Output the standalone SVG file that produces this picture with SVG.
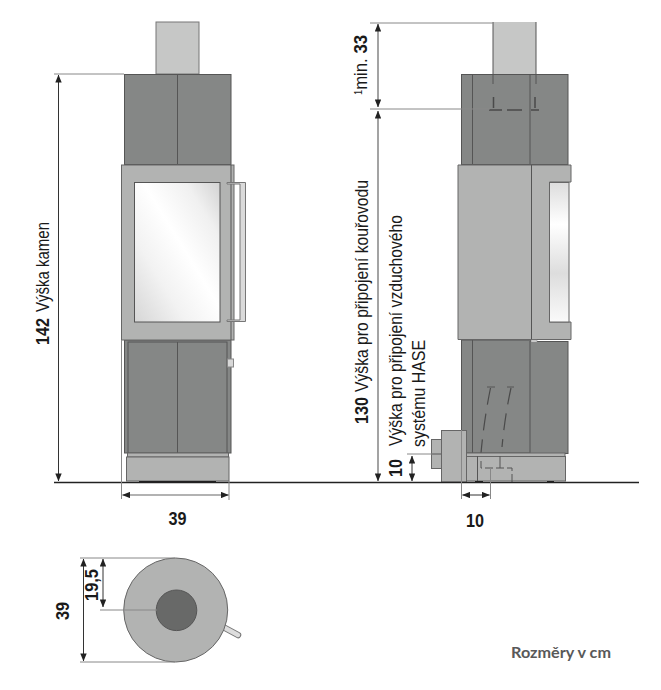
<svg xmlns="http://www.w3.org/2000/svg" width="661" height="690" viewBox="0 0 661 690">
<style>
text{font-family:"Liberation Sans",Arial,sans-serif;fill:#1a1a1a}
.n{font-size:18px}
.b{font-size:19px;font-weight:bold}
.ch{fill:#c6c7c6;stroke:#777;stroke-width:1}
.dk{fill:#858786;stroke:#555;stroke-width:1}
.lt{fill:#b2b3b2;stroke:#666;stroke-width:1}
.ln{fill:none;stroke:#555;stroke-width:1}
.br{fill:none;stroke:#4a4a4a;stroke-width:1.500}
.dash{fill:none;stroke:#4a4a4a;stroke-width:1.200;stroke-dasharray:17 9}
.dim{fill:none;stroke:#333;stroke-width:1;marker-start:url(#a);marker-end:url(#a)}
.dimg{fill:none;stroke:#666;stroke-width:1.200;marker-start:url(#a);marker-end:url(#a)}
.ext{fill:none;stroke:#888;stroke-width:1}
</style>
<defs>
<marker id="a" viewBox="0 0 10 8" refX="9.500" refY="4" markerWidth="8" markerHeight="6.400" markerUnits="userSpaceOnUse" orient="auto-start-reverse"><path d="M0 0L10 4L0 8Z" fill="#222"/></marker>
<linearGradient id="g" x1="0" y1="1" x2="1" y2="0"><stop offset="0" stop-color="#d6d6d6"/><stop offset=".3" stop-color="#f2f2f2"/><stop offset=".55" stop-color="#fff"/><stop offset=".8" stop-color="#f0f0f0"/><stop offset="1" stop-color="#d2d2d2"/></linearGradient>
<linearGradient id="g2" x1="0" y1="0" x2="0" y2="1"><stop offset="0" stop-color="#ddd"/><stop offset=".3" stop-color="#fff"/><stop offset=".65" stop-color="#ddd"/><stop offset="1" stop-color="#fafafa"/></linearGradient>
</defs>

<g id="stove-front">
<rect class="ch" x="156" y="22" width="43" height="52"/>
<rect class="dk" x="124.500" y="74.500" width="106.500" height="90"/>
<path class="ln" d="M177.500 74V165"/>
<rect class="dk" x="124.500" y="340" width="106.500" height="113"/>
<rect class="dk" x="128" y="342" width="99" height="111"/>
<path class="ln" d="M177.500 342V453"/>
<rect class="lt" x="121.500" y="165" width="112.500" height="175"/>
<path class="ln" d="M231 165V340"/>
<rect x="134.500" y="182.500" width="85.500" height="139.500" fill="url(#g)" stroke="#555"/>
<path d="M227 182.500H245.500V321.500H227V320H240V184H227Z" fill="#dadada" stroke="#777"/>
<rect x="227.500" y="359" width="6" height="8" fill="#d8d8d8" stroke="#888"/>
<rect class="lt" x="127.500" y="453" width="101" height="4"/>
<rect class="lt" x="126.500" y="457" width="102.500" height="24"/>
<rect x="139" y="481" width="77" height="2" fill="#222"/>
</g>

<g id="stove-side">
<rect x="493" y="22" width="43" height="52" fill="#c6c7c6"/>
<rect class="dk" x="461.500" y="74.500" width="106.500" height="90"/>
<path class="ln" d="M472.500 74V165M530 74V165M493 22V84M536 22V84"/>
<path class="br" d="M493.500 97V108M489 110H502M507 110H522M535 97V108M531 110H539"/>
<rect class="dk" x="461.500" y="340" width="69" height="113"/>
<rect class="dk" x="530" y="341.500" width="38" height="112"/>
<path class="ln" d="M472.500 340V453"/>
<path class="lt" d="M458 165H571V182H549.500V322H571V339.500H458Z"/>
<path class="ln" d="M531.500 165V339.500"/>
<rect x="549.500" y="182.500" width="19.500" height="139.500" fill="url(#g2)" stroke="#666"/>
<path d="M531 340H537V342H531Z" fill="#ddd" stroke="#888" stroke-width=".5"/>
<path class="ln" d="M487 387H495M507 387H514"/>
<path class="dash" d="M490.500 388Q484 420 481 453"/>
<path class="dash" d="M511 388Q505 415 502 447"/>
<rect class="lt" x="465" y="453" width="100" height="4"/>
<rect class="lt" x="463.500" y="456.500" width="102" height="24.500"/>
<rect class="lt" x="441.500" y="430.500" width="25" height="51.500"/>
<rect class="lt" x="431.500" y="439.500" width="10" height="29"/>
<path class="ln" d="M431 454H441M477.500 456V482M500 456V468"/>
<path fill="none" stroke="#555" stroke-dasharray="8 3" d="M481 461V468H512V482"/>
<rect x="475" y="481" width="8" height="2" fill="#222"/><rect x="547" y="481" width="7" height="2" fill="#222"/>
</g>

<g id="plan">
<path d="M225 628L238 635" stroke="#777" stroke-width="6.500" stroke-linecap="round" fill="none"/>
<path d="M225 628L238 635" stroke="#ddd" stroke-width="4.500" stroke-linecap="round" fill="none"/>
<circle cx="175.700" cy="610" r="52" fill="#b2b3b2" stroke="#666"/>
<circle cx="176.500" cy="610.300" r="20.300" fill="#686968" stroke="#555"/>
</g>

<g id="connectors">
<path d="M54 482.500H639" stroke="#222" stroke-width="1.300" fill="none"/>
<path class="ext" d="M54 74H124M121.500 340V499M229 481V500"/>
<path class="dim" d="M58.500 75V481"/>
<path class="dimg" d="M122.500 495H228.500"/>
<path class="ext" d="M370 23H493M370 109H490M407 454H433M461.500 430V499M490.500 468V499"/>
<path class="dimg" d="M378 24V107"/>
<path class="dimg" d="M378 111V481"/>
<path class="dim" d="M412 456V481"/>
<path class="dim" d="M462.500 495H489.500"/>
<path class="ext" d="M80 558H175M80 662H175M100 610H157"/>
<path class="dim" d="M83.500 559V661"/>
<path class="dim" d="M103 559V607"/>
</g>

<g id="labels">
<text class="b" transform="translate(49,345) rotate(-90)" textLength="27" lengthAdjust="spacingAndGlyphs">142</text>
<text class="n" transform="translate(49,312) rotate(-90)" textLength="90" lengthAdjust="spacingAndGlyphs">Výška kamen</text>
<text class="b" x="177.500" y="525" text-anchor="middle" textLength="18" lengthAdjust="spacingAndGlyphs">39</text>
<text class="n" transform="translate(367,95) rotate(-90)" textLength="60" lengthAdjust="spacingAndGlyphs"><tspan font-size="10" dy="-5">1</tspan><tspan dy="5">min. </tspan><tspan font-weight="bold">33</tspan></text>
<text class="b" transform="translate(368,424) rotate(-90)" textLength="27" lengthAdjust="spacingAndGlyphs">130</text>
<text class="n" transform="translate(368,392) rotate(-90)" textLength="212" lengthAdjust="spacingAndGlyphs">Výška pro připojení kouřovodu</text>
<text class="n" transform="translate(402,446) rotate(-90)" textLength="231" lengthAdjust="spacingAndGlyphs">Výška pro připojení vzduchového</text>
<text class="n" transform="translate(425,447) rotate(-90)" textLength="107" lengthAdjust="spacingAndGlyphs">systému HASE</text>
<text class="b" transform="translate(402,477) rotate(-90)" textLength="18" lengthAdjust="spacingAndGlyphs">10</text>
<text class="b" x="475" y="527" text-anchor="middle" textLength="18" lengthAdjust="spacingAndGlyphs">10</text>
<text class="b" transform="translate(69,620) rotate(-90)" textLength="18" lengthAdjust="spacingAndGlyphs">39</text>
<text class="b" transform="translate(98,601) rotate(-90)" textLength="32" lengthAdjust="spacingAndGlyphs">19,5</text>
<text x="511" y="658" style="font-family:Lato,'Open Sans',sans-serif;font-size:14.500px;font-weight:bold;fill:#595959" textLength="100" lengthAdjust="spacingAndGlyphs">Rozměry v cm</text>
</g>
</svg>
